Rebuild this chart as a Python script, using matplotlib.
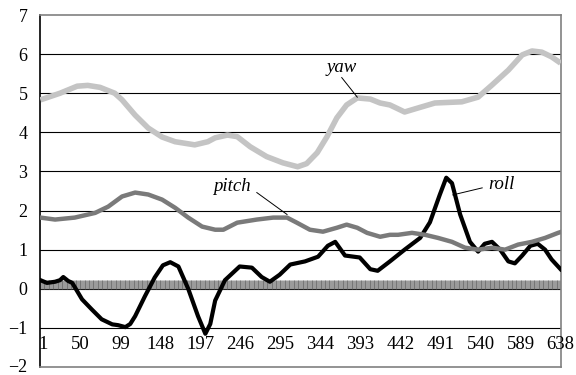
import matplotlib
matplotlib.use("Agg")
import matplotlib.pyplot as plt
import matplotlib.transforms as mtransforms
import numpy as np

# ---- data ----
yaw_x = [1, 25, 46, 59, 74, 92, 101, 117, 133, 150, 166, 190, 206, 215, 230, 242, 258, 278, 298, 316,
         327, 340, 352, 364, 376, 389, 405, 417, 429, 447, 463, 484, 517, 537, 554, 574, 591, 603, 615, 627, 638]
yaw_y = [4.83, 5.0, 5.18, 5.2, 5.15, 5.0, 4.83, 4.44, 4.11, 3.88, 3.76, 3.68, 3.76, 3.86, 3.93, 3.89, 3.63, 3.38, 3.22, 3.12,
         3.2, 3.48, 3.89, 4.37, 4.7, 4.88, 4.85, 4.75, 4.7, 4.52, 4.62, 4.75, 4.78, 4.9, 5.21, 5.59, 5.98, 6.08, 6.05, 5.93, 5.77]

pitch_x = [1, 19, 43, 68, 84, 101, 117, 133, 150, 166, 182, 199, 215, 225, 242, 266, 286, 303, 315, 331,
           347, 364, 376, 389, 401, 417, 429, 439, 456, 472, 488, 505, 521, 537, 554, 570, 586, 603, 619, 635, 638]
pitch_y = [1.82, 1.77, 1.82, 1.94, 2.1, 2.36, 2.46, 2.41, 2.28, 2.07, 1.82, 1.59, 1.51, 1.51, 1.69, 1.77, 1.82, 1.82, 1.69, 1.51,
           1.46, 1.56, 1.64, 1.56, 1.43, 1.33, 1.38, 1.38, 1.43, 1.38, 1.3, 1.2, 1.05, 1.0, 1.05, 1.0, 1.13, 1.2, 1.3, 1.43, 1.45]

roll_x = [1, 9, 19, 25, 29, 35, 40, 52, 64, 76, 89, 96, 105, 111, 117, 129, 141, 151, 160, 170,
          182, 194, 203, 209, 215, 227, 245, 260, 272, 282, 294, 307, 325, 341, 353, 362, 374, 392, 405, 414,
          429, 447, 466, 478, 490, 498, 505, 515, 527, 537, 545, 554, 564, 574, 582, 591, 601, 610, 619, 627, 638]
roll_y = [0.22, 0.15, 0.18, 0.22, 0.3, 0.2, 0.15, -0.27, -0.53, -0.78, -0.91, -0.93, -0.98, -0.9, -0.7, -0.19, 0.29, 0.6, 0.68, 0.57,
          0.0, -0.7, -1.15, -0.9, -0.3, 0.22, 0.57, 0.54, 0.3, 0.18, 0.36, 0.62, 0.7, 0.82, 1.1, 1.2, 0.85, 0.8, 0.5, 0.46,
          0.7, 1.0, 1.3, 1.7, 2.4, 2.84, 2.7, 1.9, 1.2, 0.95, 1.15, 1.2, 1.0, 0.7, 0.65, 0.85, 1.1, 1.15, 1.0, 0.75, 0.5]

categories = np.arange(1, 639)
xtick_values = [1, 50, 99, 148, 197, 246, 295, 344, 393, 442, 491, 540, 589, 638]
ytick_values = [-2, -1, 0, 1, 2, 3, 4, 5, 6, 7]
ytick_labels = ["\u22122", "\u22121", "0", "1", "2", "3", "4", "5", "6", "7"]

plt.rcParams['font.family'] = ['Liberation Serif', 'DejaVu Serif']

W, H = 576, 375
fig = plt.figure(figsize=(W / 100, H / 100), dpi=100)
L, R, T, B = 40, 561, 15, 367
ax = fig.add_axes([L / W, (H - B) / H, (R - L) / W, (B - T) / H])

ax.set_xlim(0.5, 638.5)
ax.set_ylim(-2, 7)

# gridlines
for v in ytick_values[1:-1]:
    ax.axhline(v, color='black', lw=0.8, zorder=1)

# category axis tick band at 0
ax.vlines(categories, 0, 0.22, color='#606060', lw=0.45, zorder=2)

ax.plot(yaw_x, yaw_y, color='#c4c4c4', lw=4.0, solid_capstyle='butt', zorder=3)
ax.plot(roll_x, roll_y, color='black', lw=3.0, zorder=4)
ax.plot(pitch_x, pitch_y, color='#7a7a7a', lw=3.2, zorder=5)

# category labels drawn inside the plot area, centred on their categories
for i, v in enumerate(xtick_values):
    t = ax.text(v, -1.42, str(v), ha='center', va='center', fontsize=13.5)
    if i == 0:  # first label nudged inside the axis like the original
        t.set_transform(ax.transData + mtransforms.ScaledTranslation(3 / 100, 0, fig.dpi_scale_trans))

ax.set_xticks([])
ax.set_yticks(ytick_values)
ax.set_yticklabels(ytick_labels, fontsize=13)
ax.tick_params(axis='y', length=0, pad=9)
lab = ax.get_yticklabels()[0]
lab.set_transform(lab.get_transform() + mtransforms.ScaledTranslation(0, 2 / 100, fig.dpi_scale_trans))

for s in ['top', 'right', 'bottom']:
    ax.spines[s].set_color('#808080')
    ax.spines[s].set_linewidth(1.2)
ax.spines['left'].set_color('black')
ax.spines['left'].set_linewidth(1.2)

# series annotations
ax.text(370, 5.65, 'yaw', fontsize=13.5, style='italic', ha='center', va='center')
ax.plot([370, 389], [5.4, 4.9], color='black', lw=0.7, zorder=6)
ax.text(236, 2.61, 'pitch', fontsize=13.5, style='italic', ha='center', va='center')
ax.plot([266, 303], [2.46, 1.9], color='black', lw=0.7, zorder=6)
ax.text(566, 2.66, 'roll', fontsize=13.5, style='italic', ha='center', va='center')
ax.plot([542, 506], [2.58, 2.4], color='black', lw=0.7, zorder=6)

fig.savefig('out.png', dpi=100)
